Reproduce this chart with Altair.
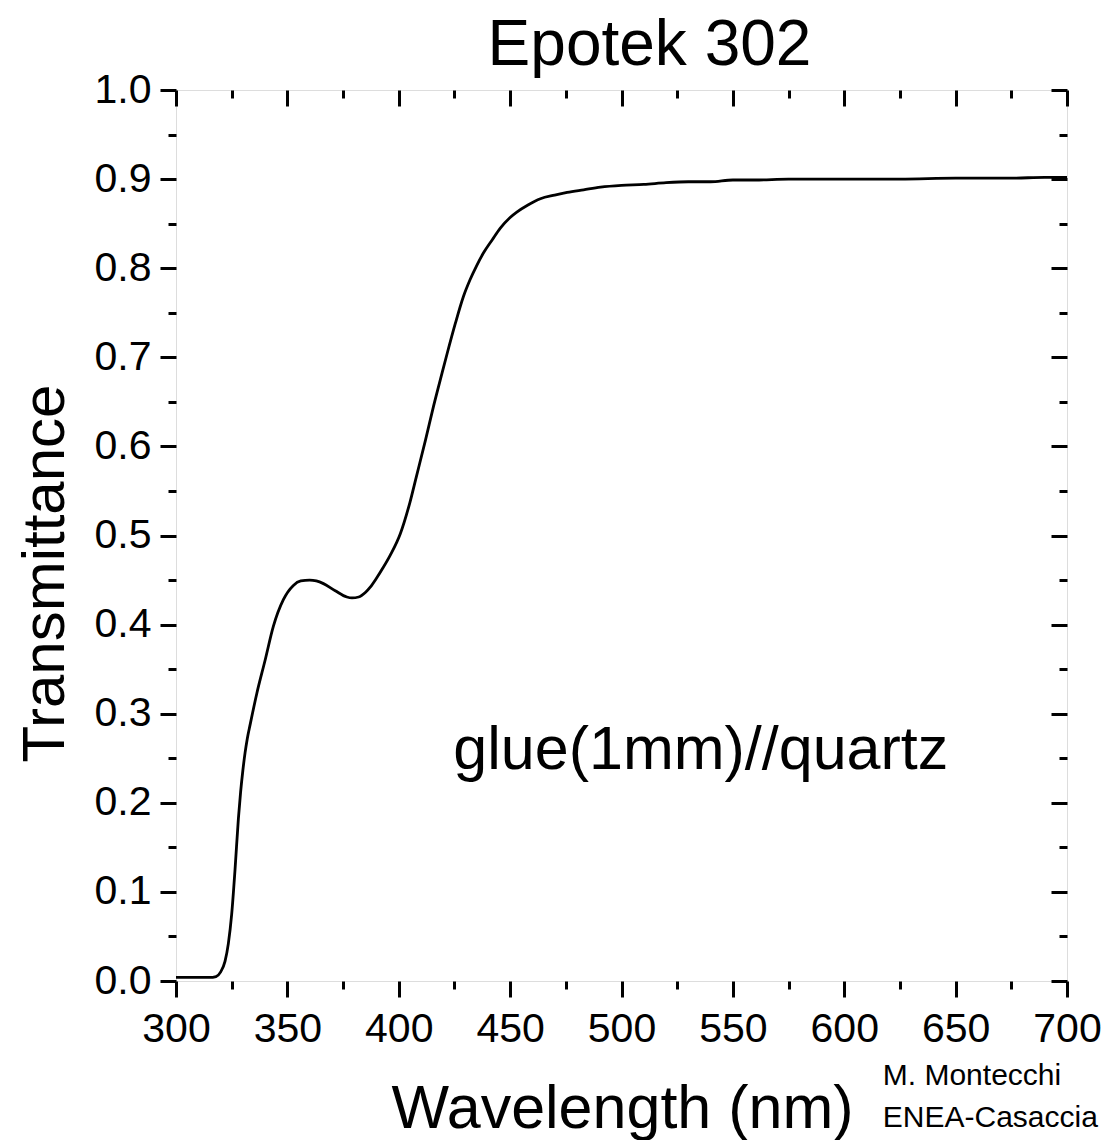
import altair as alt
import pandas as pd

# ---- data ----
wavelength = [300, 305, 310, 315, 318, 320, 322, 323.5, 325, 326.5, 328, 329, 330, 331,
              332, 333.3, 336.3, 340, 343.7, 348.2, 352.7, 356, 360, 363, 366.2, 371.5,
              376.7, 379, 382, 385, 387.2, 390, 393, 396.2, 400.7, 405, 408, 412,
              415.6, 419.4, 421.7, 425.4, 429, 432, 435, 438, 442, 445.6, 450, 453,
              458, 463.6, 470, 475.6, 483, 490.6, 500, 510, 520, 530, 540, 550, 560,
              575, 600, 625, 650, 675, 690, 700]
transmittance = [0.004, 0.004, 0.004, 0.004, 0.005, 0.010, 0.022, 0.042, 0.075, 0.125,
                 0.182, 0.212, 0.236, 0.256, 0.272, 0.288, 0.323, 0.360, 0.398, 0.428,
                 0.444, 0.449, 0.450, 0.449, 0.446, 0.438, 0.431, 0.430, 0.431, 0.436,
                 0.442, 0.452, 0.464, 0.478, 0.502, 0.537, 0.567, 0.607, 0.645, 0.682,
                 0.704, 0.738, 0.768, 0.787, 0.803, 0.817, 0.832, 0.845, 0.857, 0.863,
                 0.871, 0.878, 0.882, 0.885, 0.888, 0.891, 0.893, 0.894, 0.896, 0.897,
                 0.897, 0.899, 0.899, 0.900, 0.900, 0.900, 0.901, 0.901, 0.902, 0.902]

x_major = [300, 350, 400, 450, 500, 550, 600, 650, 700]
x_minor = [325, 375, 425, 475, 525, 575, 625, 675]
y_major = [0.0, 0.1, 0.2, 0.3, 0.4, 0.5, 0.6, 0.7, 0.8, 0.9, 1.0]
y_minor = [0.05, 0.15, 0.25, 0.35, 0.45, 0.55, 0.65, 0.75, 0.85, 0.95]

title_text = "Epotek 302"
x_title = "Wavelength (nm)"
y_title = "Transmittance"

note_text = ["glue(1mm)//quartz"]
note_wl = [424.5]
note_T = [0.238]

credit_text = ["M. Montecchi", "ENEA-Casaccia"]
credit_wl = [617.3, 617.3]
credit_T = [-0.1167, -0.164]

# ---- chart ----
W = H = 891
FONT = "Liberation Sans"

df = pd.DataFrame({"wl": wavelength, "T": transmittance})
df_note = pd.DataFrame({"wl": note_wl, "T": note_T, "label": note_text})
df_credit = pd.DataFrame({"wl": credit_wl, "T": credit_T, "label": credit_text})

xs = alt.Scale(domain=[300, 700], nice=False, zero=False)
ys = alt.Scale(domain=[0, 1], nice=False, zero=False)

common = dict(domain=False, grid=False, tickColor="black", tickWidth=3,
              labelFlush=False, labelOverlap=False)


def tick_axis(orient, values, size, offset=0):
    return alt.Axis(orient=orient, values=values, tickSize=size, labels=False,
                    title=None, offset=offset, **common)


main = alt.Chart(df).mark_line(color="black", strokeWidth=2.8,
                               interpolate="monotone").encode(
    x=alt.X("wl:Q", scale=xs,
            axis=alt.Axis(orient="bottom", values=x_major, tickSize=16, format="d",
                          labelFont=FONT, labelFontSize=41, labelColor="black",
                          labelPadding=12, labelBaseline="top",
                          title=x_title, titleFont=FONT, titleFontSize=61,
                          titleFontWeight="normal", titleColor="black",
                          titleX=446, titleY=146, titleBaseline="alphabetic",
                          titleAlign="center", **common)),
    y=alt.Y("T:Q", scale=ys,
            axis=alt.Axis(orient="left", values=y_major, tickSize=16, format=".1f",
                          labelFont=FONT, labelFontSize=41, labelColor="black",
                          labelPadding=9, labelBaseline="middle",
                          title=y_title, titleFont=FONT, titleFontSize=60,
                          titleFontWeight="normal", titleColor="black",
                          titleX=-113, titleY=483, titleAngle=270,
                          titleBaseline="alphabetic", titleAlign="center", **common)),
)


def ghost(xaxis, yaxis):
    return alt.Chart(df).mark_line(opacity=0).encode(
        x=alt.X("wl:Q", scale=xs, axis=xaxis),
        y=alt.Y("T:Q", scale=ys, axis=yaxis),
    )


minor_out = ghost(tick_axis("bottom", x_minor, 8), tick_axis("left", y_minor, 8))
major_in = ghost(tick_axis("bottom", x_major, 16, -H), tick_axis("left", y_major, 16, -W))
minor_in = ghost(tick_axis("bottom", x_minor, 8, -H), tick_axis("left", y_minor, 8, -W))

note = alt.Chart(df_note).mark_text(
    font=FONT, fontSize=61, align="left", baseline="alphabetic", color="black"
).encode(
    x=alt.X("wl:Q", scale=xs, axis=None),
    y=alt.Y("T:Q", scale=ys, axis=None),
    text="label:N",
)

credit = alt.Chart(df_credit).mark_text(
    font=FONT, fontSize=30, align="left", baseline="alphabetic", color="black"
).encode(
    x=alt.X("wl:Q", scale=xs, axis=None),
    y=alt.Y("T:Q", scale=ys, axis=None),
    text="label:N",
)

chart = alt.layer(main, minor_out, major_in, minor_in, note, credit).resolve_axis(
    x="independent", y="independent"
).properties(
    width=W, height=H,
    title=alt.TitleParams(title_text, font=FONT, fontSize=64, fontWeight="normal",
                          color="black", anchor="middle", dx=28, dy=19, offset=10),
    autosize=alt.AutoSizeParams(type="none"),
    padding={"left": 168, "top": 82, "right": 34, "bottom": 159},
).configure_view(stroke="black", strokeWidth=3).configure(background="white")

chart.save("out.html", embed_options={"renderer": "svg", "actions": False})
